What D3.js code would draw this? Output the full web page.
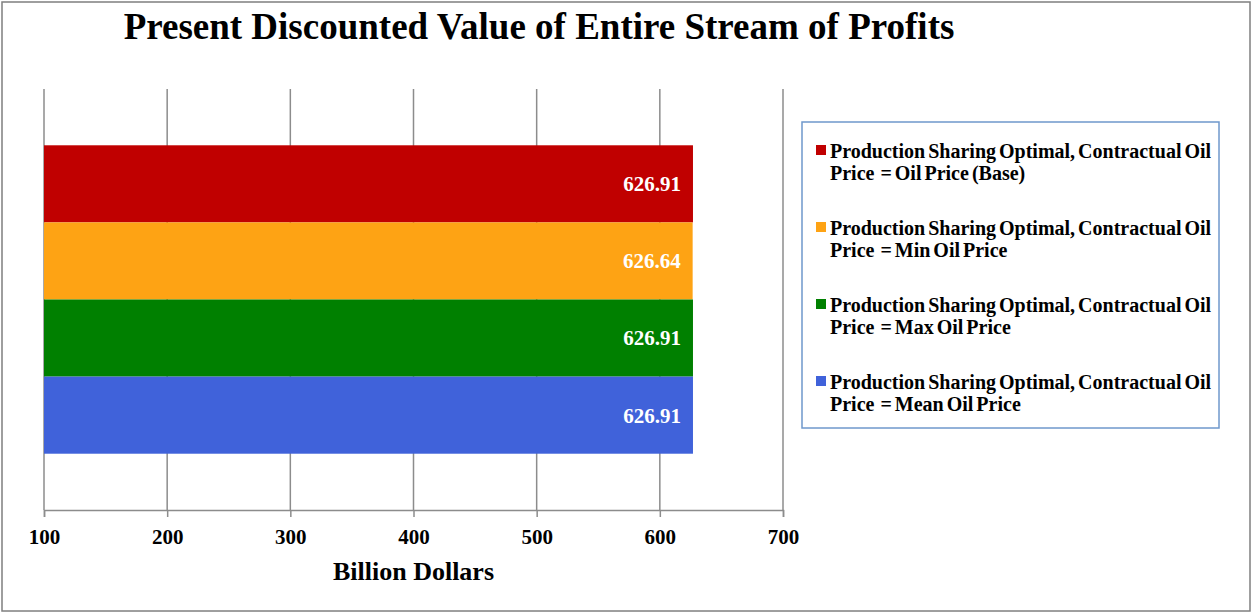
<!DOCTYPE html>
<html>
<head>
<meta charset="utf-8">
<script src="https://cdn.jsdelivr.net/npm/d3@7.9.0/dist/d3.min.js"></script>
<style>
  body { margin: 0; background: #fff; }
  svg { display: block; font-family: "Liberation Serif", "Times New Roman", serif; font-weight: bold; }
</style>
</head>
<body>
<svg id="chart" width="1252" height="614"></svg>
<script>
const scenarios = ['Base', 'Min', 'Max', 'Mean'];
const values = [626.91, 626.64, 626.91, 626.91];
const colors = ['#c00000', '#fea314', '#008000', '#4062da'];
const legendLabels = [
  ['Production Sharing Optimal, Contractual Oil', 'Price  = Oil Price (Base)'],
  ['Production Sharing Optimal, Contractual Oil', 'Price  = Min Oil Price'],
  ['Production Sharing Optimal, Contractual Oil', 'Price  = Max Oil Price'],
  ['Production Sharing Optimal, Contractual Oil', 'Price  = Mean Oil Price'],
];
const xTicks = [100, 200, 300, 400, 500, 600, 700];

const width = 1252;
const height = 614;
const plot = { left: 44, right: 783, top: 89, bottom: 510 };

const svg = d3.select('#chart');

// outer frame
svg.append('rect')
  .attr('x', 2).attr('y', 2)
  .attr('width', width - 4).attr('height', height - 5)
  .attr('fill', '#fff')
  .attr('stroke', '#7f7f7f')
  .attr('stroke-width', 1.5);

svg.append('text')
  .attr('x', 539)
  .attr('y', 39)
  .attr('text-anchor', 'middle')
  .attr('font-size', 37)
  .text('Present Discounted Value of Entire Stream of Profits');

const x = d3.scaleLinear().domain([100, 700]).range([plot.left, plot.right]);
const y = d3.scaleBand()
  .domain(scenarios)
  .range([plot.top, plot.bottom])
  .paddingInner(0)
  .paddingOuter(0.73);

// vertical gridlines
svg.append('g')
  .selectAll('line')
  .data(xTicks)
  .join('line')
  .attr('x1', (d) => x(d))
  .attr('x2', (d) => x(d))
  .attr('y1', plot.top)
  .attr('y2', plot.bottom)
  .attr('stroke', '#8c8c8c')
  .attr('stroke-width', 1.5);

// bars
svg.append('g')
  .selectAll('rect')
  .data(values)
  .join('rect')
  .attr('x', x(100))
  .attr('y', (d, i) => y(scenarios[i]))
  .attr('width', (d) => x(d) - x(100))
  .attr('height', y.bandwidth())
  .attr('fill', (d, i) => colors[i]);

// value labels
svg.append('g')
  .selectAll('text')
  .data(values)
  .join('text')
  .attr('x', (d) => x(d) - 12)
  .attr('y', (d, i) => y(scenarios[i]) + y.bandwidth() / 2)
  .attr('dy', '0.35em')
  .attr('text-anchor', 'end')
  .attr('fill', '#fff')
  .attr('font-size', 21)
  .text((d) => d3.format('.2f')(d));

// x axis
const xAxis = svg.append('g')
  .attr('transform', `translate(0, ${plot.bottom})`)
  .call(d3.axisBottom(x).tickValues(xTicks).tickSize(7).tickPadding(12).tickFormat(d3.format('d')));
xAxis.select('.domain').attr('stroke', '#8c8c8c').attr('stroke-width', 1.5);
xAxis.selectAll('.tick line').attr('stroke', '#8c8c8c').attr('stroke-width', 1.5);
xAxis.selectAll('.tick text')
  .attr('fill', '#000')
  .attr('font-size', 21)
  .attr('font-family', '"Liberation Serif", "Times New Roman", serif')
  .attr('font-weight', 'bold');

svg.append('text')
  .attr('x', (plot.left + plot.right) / 2)
  .attr('y', 580)
  .attr('text-anchor', 'middle')
  .attr('font-size', 26)
  .text('Billion Dollars');

// legend
const legend = svg.append('g');
legend.append('rect')
  .attr('x', 802).attr('y', 122)
  .attr('width', 417).attr('height', 306)
  .attr('fill', '#fff')
  .attr('stroke', '#6f98cc')
  .attr('stroke-width', 1.5);

const items = legend.selectAll('g.item')
  .data(legendLabels)
  .join('g')
  .attr('class', 'item')
  .attr('transform', (d, i) => `translate(816, ${158 + i * 77})`);

items.append('rect')
  .attr('x', 0).attr('y', -13)
  .attr('width', 10).attr('height', 10)
  .attr('fill', (d, i) => colors[i]);

items.append('text')
  .attr('font-size', 20)
  .attr('word-spacing', -2)
  .style('white-space', 'pre')
  .selectAll('tspan')
  .data((d) => d)
  .join('tspan')
  .attr('x', 14)
  .attr('y', (d, i) => i * 22)
  .style('white-space', 'pre')
  .text((d) => d);
</script>
</body>
</html>
